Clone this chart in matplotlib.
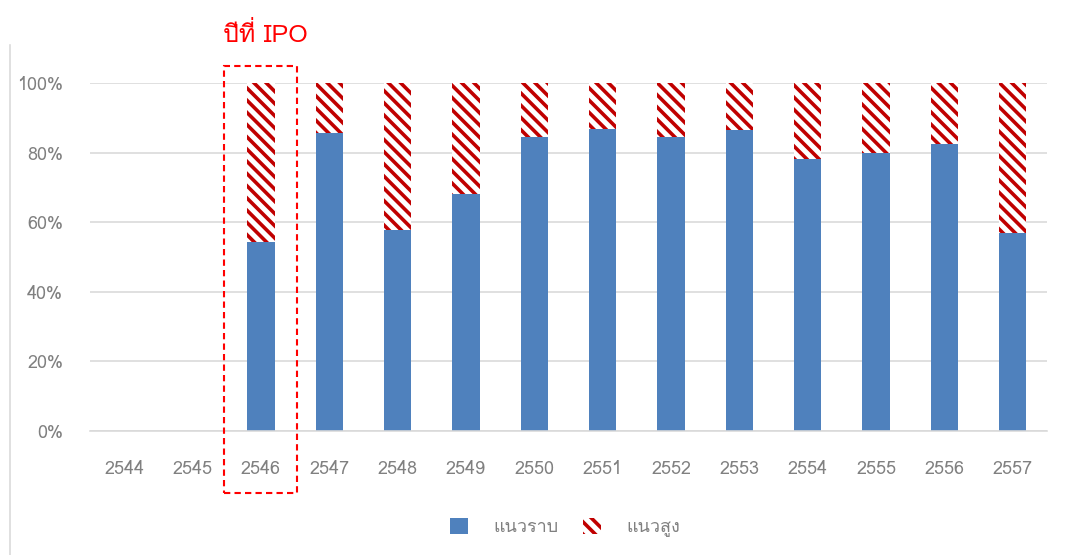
import matplotlib

matplotlib.use("Agg")
import matplotlib.pyplot as plt
from matplotlib.patches import Patch, Rectangle

years = ["2544", "2545", "2546", "2547", "2548", "2549", "2550",
         "2551", "2552", "2553", "2554", "2555", "2556", "2557"]
flat_pct = [0, 0, 54.3, 85.6, 57.8, 68.1, 84.5, 86.8, 84.5, 86.5, 78.2, 79.9, 82.5, 56.9]
high_pct = [0, 0, 45.7, 14.4, 42.2, 31.9, 15.5, 13.2, 15.5, 13.5, 21.8, 20.1, 17.5, 43.1]
y_ticks = [0, 20, 40, 60, 80, 100]
ipo_year = "2546"

BLUE = "#4F81BD"
HATCH_RED = "#C00000"
GREY_TEXT = "#808080"
GRID = "#D9D9D9"
HATCH = "\\\\\\"

W, H = 1091, 555
DPI = 110


def px(v):
    # pixel size -> points at the figure dpi
    return v * 72 / DPI


plt.rcParams["font.family"] = ["Loma", "IBM Plex Sans Thai Looped", "DejaVu Sans"]
plt.rcParams["hatch.linewidth"] = px(3.6)

fig = plt.figure(figsize=(W / DPI, H / DPI), dpi=DPI)
ax = fig.add_axes([90 / W, 1 - 431 / H, 957 / W, 348 / H])

x = list(range(len(years)))
ax.bar(x, flat_pct, width=0.4, color=BLUE, zorder=2)
ax.bar(x, high_pct, width=0.4, bottom=flat_pct, facecolor="white",
       edgecolor=HATCH_RED, hatch=HATCH, linewidth=0, zorder=2)

ax.set_xlim(-0.5, len(years) - 0.5)
ax.set_ylim(0, 100)
ax.set_yticks(y_ticks)
ax.set_yticklabels([f"{t}%" for t in y_ticks])
ax.set_xticks(x)
ax.set_xticklabels(years)
ax.tick_params(axis="both", length=0, labelsize=px(18), colors=GREY_TEXT)
ax.tick_params(axis="x", pad=px(29))
ax.tick_params(axis="y", pad=px(27))
ax.grid(axis="y", color=GRID, linewidth=px(1.6), zorder=0)
for side in ["top", "right", "left"]:
    ax.spines[side].set_visible(False)
ax.spines["bottom"].set_color(GRID)
ax.spines["bottom"].set_linewidth(px(1.6))

# dashed frame and label marking the IPO year
i = years.index(ipo_year)
ax.add_patch(Rectangle((i - 0.54, -17.8), 1.07, 122.7, fill=False, edgecolor="red",
                       linestyle=(0, (3, 2)), linewidth=px(2.1), clip_on=False, zorder=3))
ax.text(i + 0.06, 111.8, "ปีที่ IPO", color="red", fontsize=px(25), ha="center",
        va="baseline", clip_on=False)

# thin border on the left edge of the chart area
fig.add_artist(plt.Line2D([10 / W, 10 / W], [0, 1 - 45 / H],
                          color=GRID, linewidth=px(1.6)))

handles = [Patch(facecolor=BLUE), Patch(facecolor="white", edgecolor=HATCH_RED,
                                        hatch=HATCH, linewidth=0)]
fig.legend(handles, ["แนวราบ", "แนวสูง"], loc="center", bbox_to_anchor=(0.518, 0.05),
           ncol=2, frameon=False, fontsize=px(18), labelcolor=GREY_TEXT,
           handlelength=1.0, handleheight=1.0, handletextpad=1.4, columnspacing=1.4)

fig.savefig("out.png", dpi=DPI)
